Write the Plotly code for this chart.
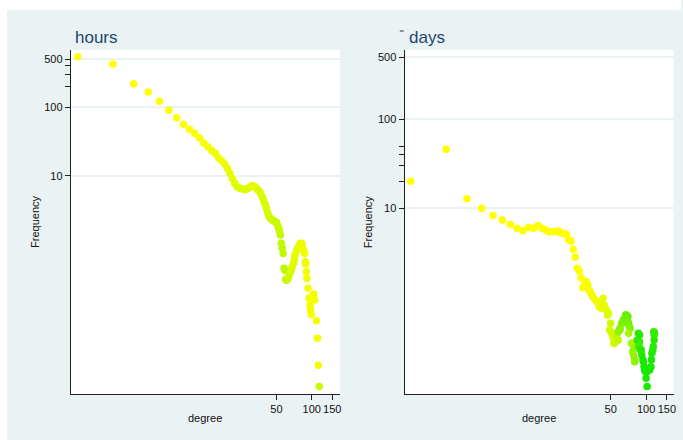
import plotly.graph_objects as go

# ---------------- data: "hours" panel ----------------
hours_degree = [1, 2, 3, 4, 5, 6, 7, 8, 9, 10,
                11, 12, 13, 14, 15, 16, 17, 18, 19, 20,
                21, 22, 23, 24, 25, 26, 27, 28, 29, 30,
                31, 32, 33, 34, 35, 36, 37, 38, 39, 40,
                41, 42, 43, 44, 45, 46, 47, 48, 49, 50,
                51, 52, 53, 54, 55, 56, 57, 58, 59, 60,
                61, 62, 63, 64, 66, 67, 68, 70, 71, 72,
                74, 76, 77, 79, 80, 82, 83, 85, 87, 88,
                89, 90, 91, 93, 95, 97, 98, 99, 101, 104,
                106, 110, 112, 114, 116]
hours_freq = [540, 423, 218, 165, 121, 89.5, 69.8, 56, 47.3, 41.4,
              35.4, 29.6, 26.2, 23.1, 21.2, 18.1, 16.5, 14.8, 12.8, 10.8,
              9.04, 7.75, 6.9, 6.6, 6.45, 6.35, 6.3, 6.45, 6.6, 6.9,
              7.2, 7.1, 6.8, 6.5, 6.1, 5.8, 5.3, 4.8, 4.3, 3.8,
              3.35, 2.9, 2.6, 2.45, 2.35, 2.27, 2.2, 2.17, 2.14, 2.1,
              1.9, 1.75, 1.55, 1.37, 1.04, 0.88, 0.74, 0.45, 0.42, 0.31,
              0.30, 0.31, 0.33, 0.36, 0.40, 0.43, 0.47, 0.53, 0.6, 0.70,
              0.80, 0.88, 0.93, 1.0, 1.04, 1.04, 1.0, 0.83, 0.74, 0.56,
              0.52, 0.40, 0.32, 0.23, 0.165, 0.13, 0.11, 0.095, 0.177, 0.19,
              0.155, 0.0775, 0.043, 0.0174, 0.0085]
hours_tone = [0, 0, 0, 0, 0, 0, 0, 0, 0, 0.02,
              0.02, 0.03, 0.03, 0.04, 0.05, 0.06, 0.06, 0.07, 0.08, 0.1,
              0.1, 0.11, 0.12, 0.12, 0.13, 0.13, 0.13, 0.13, 0.12, 0.12,
              0.1, 0.1, 0.1, 0.11, 0.12, 0.13, 0.13, 0.14, 0.15, 0.15,
              0.15, 0.16, 0.17, 0.17, 0.18, 0.18, 0.19, 0.19, 0.2, 0.2,
              0.2, 0.2, 0.22, 0.22, 0.24, 0.25, 0.25, 0.26, 0.26, 0.24,
              0.24, 0.22, 0.2, 0.18, 0.16, 0.14, 0.13, 0.12, 0.11, 0.1,
              0.1, 0.09, 0.09, 0.08, 0.08, 0.07, 0.07, 0.06, 0.06, 0.05,
              0.05, 0.05, 0.04, 0.04, 0.04, 0.04, 0.04, 0.04, 0.04, 0.04,
              0.04, 0.04, 0.04, 0.05, 0.22]

# ---------------- data: "days" panel ----------------
days_degree = [1, 2, 3, 4, 5, 6, 7, 8, 9, 10,
               11, 12, 13, 14, 15, 16, 17, 18, 19, 20,
               21, 22, 23, 24, 25, 26, 27, 28, 29, 30,
               31, 32, 33, 34, 35, 37, 39, 40, 42, 43,
               44, 45, 46, 47, 48, 49, 50, 51, 52, 52,
               53, 54, 56, 58, 58, 60, 60, 62, 63, 64,
               66, 67, 68, 70, 70, 71, 72, 73, 71, 75,
               76, 77, 78, 79, 80, 80, 84, 86, 88, 87,
               88, 87, 90, 91, 92, 94, 95, 96, 97, 99,
               100, 102, 102, 107, 107, 110, 111, 112, 114, 115,
               116, 117, 117, 118]
days_freq = [20.1, 46, 12.8, 10.0, 8.3, 7.4, 6.6, 5.96, 5.6, 6.1,
             5.96, 6.4, 5.96, 5.7, 5.46, 5.46, 5.5, 5.55, 5.24, 5.2,
             5.1, 4.4, 4.29, 3.46, 2.81, 2.12, 1.98, 1.66, 1.28, 1.41,
             1.50, 1.37, 1.2, 1.11, 1.02, 0.93, 0.86, 0.78, 0.75, 0.975,
             0.82, 0.75, 0.72, 0.63, 0.66, 0.43, 0.51, 0.394, 0.361, 0.394,
             0.304, 0.304, 0.377, 0.331, 0.411, 0.449, 0.43, 0.511, 0.511, 0.56,
             0.581, 0.633, 0.633, 0.61, 0.532, 0.511, 0.468, 0.449, 0.394, 0.304,
             0.304, 0.245, 0.225, 0.267, 0.198, 0.189, 0.331, 0.394, 0.377, 0.304,
             0.317, 0.279, 0.256, 0.256, 0.225, 0.198, 0.189, 0.166, 0.152, 0.146,
             0.123, 0.146, 0.0995, 0.152, 0.157, 0.166, 0.198, 0.235, 0.256, 0.279,
             0.411, 0.331, 0.377, 0.40]
days_tone = [0, 0, 0, 0, 0, 0, 0, 0, 0, 0,
             0, 0, 0, 0, 0, 0, 0, 0, 0, 0,
             0, 0, 0, 0, 0, 0, 0, 0, 0.02, 0.02,
             0.02, 0.03, 0.03, 0.04, 0.04, 0.05, 0.06, 0.06, 0.08, 0.08,
             0.1, 0.1, 0.1, 0.12, 0.12, 0.15, 0.2, 0.15, 0.15, 0.18,
             0.15, 0.18, 0.25, 0.25, 0.4, 0.45, 0.45, 0.5, 0.5, 0.55,
             0.55, 0.55, 0.6, 0.6, 0.55, 0.55, 0.55, 0.5, 0.35, 0.35,
             0.35, 0.4, 0.4, 0.45, 0.45, 0.45, 0.8, 0.85, 0.85, 0.8,
             0.8, 0.75, 0.85, 0.85, 0.85, 0.9, 0.9, 0.9, 0.9, 0.9,
             0.9, 0.9, 0.9, 0.9, 0.9, 0.9, 0.9, 0.88, 0.85, 0.85,
             0.8, 0.85, 0.8, 0.8]

# ---------------- ticks & labels ----------------
y_major = [10, 100, 500]
y_major_text = ["10", "100", "500"]
hours_minor = [200, 300, 400]
days_minor = [20, 30, 40, 50]
x_ticks = [50, 100, 150]
x_tick_text = ["50", "100", "150"]
panel_titles = ["hours", "days"]

W, H = 683, 440
BG = "#eaf2f3"
NAVY = "#1a476f"
FONT = "Liberation Sans, Arial, Helvetica, sans-serif"
colorscale = [[0, "#ffff00"], [1, "#00e600"]]


def px(v):
    return v / W


def py(v):
    return 1 - v / H


fig = go.Figure()
fig.add_trace(go.Scatter(
    x=hours_degree, y=hours_freq, mode="markers", xaxis="x", yaxis="y",
    marker=dict(size=7.5, color=hours_tone, colorscale=colorscale, cmin=0, cmax=1,
                line=dict(width=0)),
    showlegend=False, hoverinfo="x+y"))
fig.add_trace(go.Scatter(
    x=days_degree, y=days_freq, mode="markers", xaxis="x2", yaxis="y2",
    marker=dict(size=7.5, color=days_tone, colorscale=colorscale, cmin=0, cmax=1,
                line=dict(width=0)),
    showlegend=False, hoverinfo="x+y"))

tickfont = dict(family=FONT, size=11, color="#111111")
xcommon = dict(type="log", tickmode="array", tickvals=x_ticks, ticktext=x_tick_text,
               ticks="outside", ticklen=5, tickcolor="#222222", showgrid=False,
               showline=True, linecolor="#222222", linewidth=1, zeroline=False,
               tickfont=tickfont, fixedrange=True)
ycommon = dict(type="log", tickmode="array", tickvals=y_major, ticktext=y_major_text,
               ticks="outside", ticklen=5, tickcolor="#222222", showgrid=True,
               gridcolor=BG, gridwidth=1.5, showline=True, linecolor="#222222",
               linewidth=1, zeroline=False, tickfont=tickfont, fixedrange=True)

y_dom = [py(394), py(50)]
fig.update_layout(
    width=W, height=H,
    margin=dict(l=0, r=0, t=0, b=0),
    paper_bgcolor=BG, plot_bgcolor="white",
    font=dict(family=FONT),
    xaxis=dict(xcommon, domain=[px(71), px(341)], range=[-0.06, 2.242], anchor="y"),
    yaxis=dict(ycommon, domain=y_dom, range=[-2.178, 2.830], anchor="x",
               minor=dict(tickmode="array", tickvals=hours_minor, ticks="outside",
                          ticklen=5, tickcolor="#222222", showgrid=False)),
    xaxis2=dict(xcommon, domain=[px(405.7), px(675.5)], range=[-0.053, 2.233], anchor="y2"),
    yaxis2=dict(ycommon, domain=y_dom, range=[-1.087, 2.779], anchor="x2",
                minor=dict(tickmode="array", tickvals=days_minor, ticks="outside",
                           ticklen=5, tickcolor="#222222", showgrid=False)),
    shapes=[
        # white outer margin strips (top and left)
        dict(type="rect", xref="paper", yref="paper", x0=0, x1=1, y0=py(10), y1=1,
             fillcolor="white", line=dict(width=0), layer="below"),
        dict(type="rect", xref="paper", yref="paper", x0=0, x1=px(7), y0=0, y1=1,
             fillcolor="white", line=dict(width=0), layer="below"),
        dict(type="line", xref="paper", yref="paper", x0=px(401), x1=px(405),
             y0=py(31), y1=py(31), line=dict(color="#333333", width=1)),
    ],
)

ann = []
for title, x0 in zip(panel_titles, [73, 407.7]):
    ann.append(dict(text=title, xref="paper", yref="paper", x=px(x0), y=py(49),
                    xanchor="left", yanchor="bottom", showarrow=False,
                    font=dict(family=FONT, size=17, color=NAVY)))
for xc in [35, 369.3]:
    ann.append(dict(text="Frequency", xref="paper", yref="paper", x=px(xc), y=py(222),
                    xanchor="center", yanchor="middle", textangle=-90, showarrow=False,
                    font=dict(family=FONT, size=11, color="#111111")))
for xc in [206, 540.6]:
    ann.append(dict(text="degree", xref="paper", yref="paper", x=px(xc), y=py(417.5),
                    xanchor="center", yanchor="middle", showarrow=False,
                    font=dict(family=FONT, size=11, color="#111111")))
fig.update_layout(annotations=ann)

fig.write_html("out.html")
